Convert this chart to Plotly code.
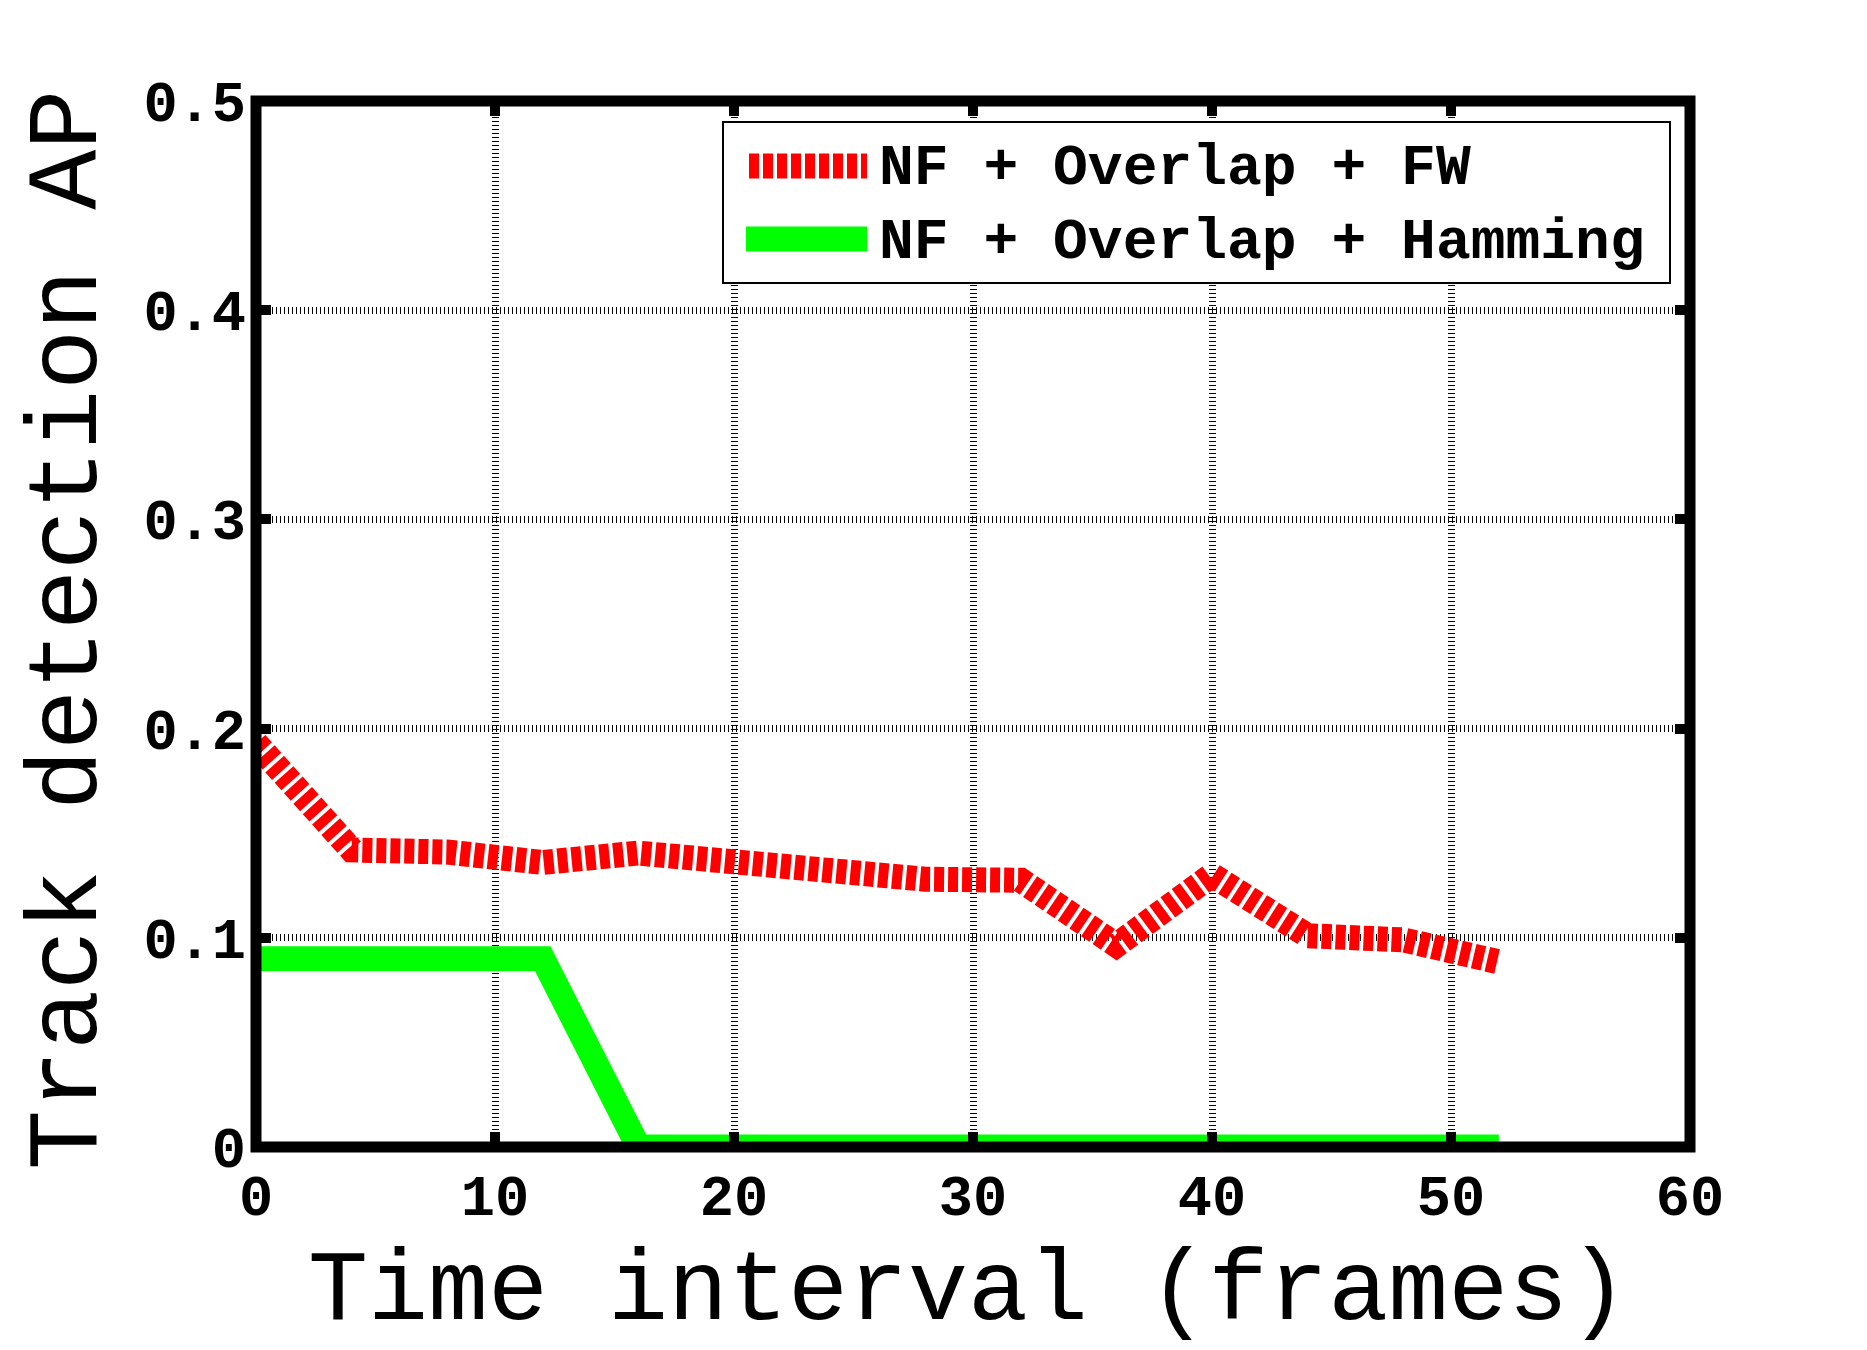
import plotly.graph_objects as go

# values
frames = [0, 4, 8, 12, 16, 20, 24, 28, 32, 36, 40, 44, 48, 52]
ap_fw = [0.193, 0.142, 0.141, 0.136, 0.1405, 0.137, 0.132, 0.128, 0.1275,
         0.0965, 0.130, 0.101, 0.099, 0.0885]
ap_hamming = [0.09, 0.09, 0.09, 0.09, 0, 0, 0, 0, 0, 0, 0, 0, 0, 0]
x_ticks = [0, 10, 20, 30, 40, 50, 60]
y_ticks = [0, 0.1, 0.2, 0.3, 0.4, 0.5]
legend_names = ["NF + Overlap + FW", "NF + Overlap + Hamming"]

RED = "#ff0000"
GREEN = "#00ff00"
MONO = "Liberation Mono, Courier New, monospace"

# page offset of the figure (body margin), positions below are page pixels
OFF = 8
W, H = 1867, 1350
PLOT_L, PLOT_R, PLOT_T, PLOT_B = 256, 1690, 101, 1147
L, T = PLOT_L - OFF, PLOT_T - OFF
R, B = W - (PLOT_R - OFF), H - (PLOT_B - OFF)
PW, PH = PLOT_R - PLOT_L, PLOT_B - PLOT_T


def px_x(p):
    return (p - PLOT_L) / PW


def px_y(p):
    return (PLOT_B - p) / PH


fig = go.Figure()
fig.add_trace(go.Scatter(
    x=frames, y=ap_fw, mode="lines", name=legend_names[0],
    line=dict(color=RED, width=25, dash="10px,4px"),
))
fig.add_trace(go.Scatter(
    x=frames, y=ap_hamming, mode="lines", name=legend_names[1],
    line=dict(color=GREEN, width=25),
))

axis_common = dict(
    showline=False, zeroline=False, mirror="ticks",
    ticks="inside", ticklen=15, tickwidth=10, tickcolor="black",
    showgrid=True, gridcolor="black", gridwidth=7, griddash="1px,3px",
    tickfont=dict(family=MONO, size=57, color="black", weight="bold"),
)
fig.update_xaxes(range=[0, 60], tickvals=x_ticks, ticklabelstandoff=10, **axis_common)
fig.update_yaxes(range=[0, 0.5], tickvals=y_ticks, ticklabelstandoff=9, **axis_common)

# axes frame
fig.add_shape(type="rect", xref="paper", yref="paper", x0=0, x1=1, y0=0, y1=1,
              line=dict(color="black", width=11), layer="above")

# legend box, drawn by hand to get the long line samples
fig.add_shape(type="rect", xref="paper", yref="paper",
              x0=px_x(723), x1=px_x(1670), y0=px_y(283), y1=px_y(122),
              line=dict(color="black", width=2), fillcolor="white", layer="above")
fig.add_shape(type="line", xref="paper", yref="paper",
              x0=px_x(749), x1=px_x(867), y0=px_y(166), y1=px_y(166),
              line=dict(color=RED, width=25, dash="10px,4px"), layer="above")
fig.add_shape(type="line", xref="paper", yref="paper",
              x0=px_x(746), x1=px_x(867), y0=px_y(239), y1=px_y(239),
              line=dict(color=GREEN, width=25), layer="above")
for name, yp in zip(legend_names, [169, 242]):
    fig.add_annotation(
        text=name, xref="paper", yref="paper", x=px_x(877), y=px_y(yp),
        xanchor="left", yanchor="middle", showarrow=False,
        font=dict(family=MONO, size=58, color="black", weight="bold"),
    )

# axis titles
fig.add_annotation(
    text="Time interval (frames)", xref="paper", yref="paper",
    x=px_x(968), y=px_y(1292), xanchor="center", yanchor="middle", showarrow=False,
    font=dict(family=MONO, size=100, color="black"),
)
fig.add_annotation(
    text="Track detection AP", xref="paper", yref="paper",
    x=px_x(69), y=px_y(630), xanchor="center", yanchor="middle", showarrow=False,
    textangle=-90, font=dict(family=MONO, size=100, color="black"),
)

fig.update_layout(
    width=W, height=H,
    margin=dict(l=L, r=R, t=T, b=B),
    paper_bgcolor="white", plot_bgcolor="white",
    showlegend=False,
)
fig.write_html("out.html")
